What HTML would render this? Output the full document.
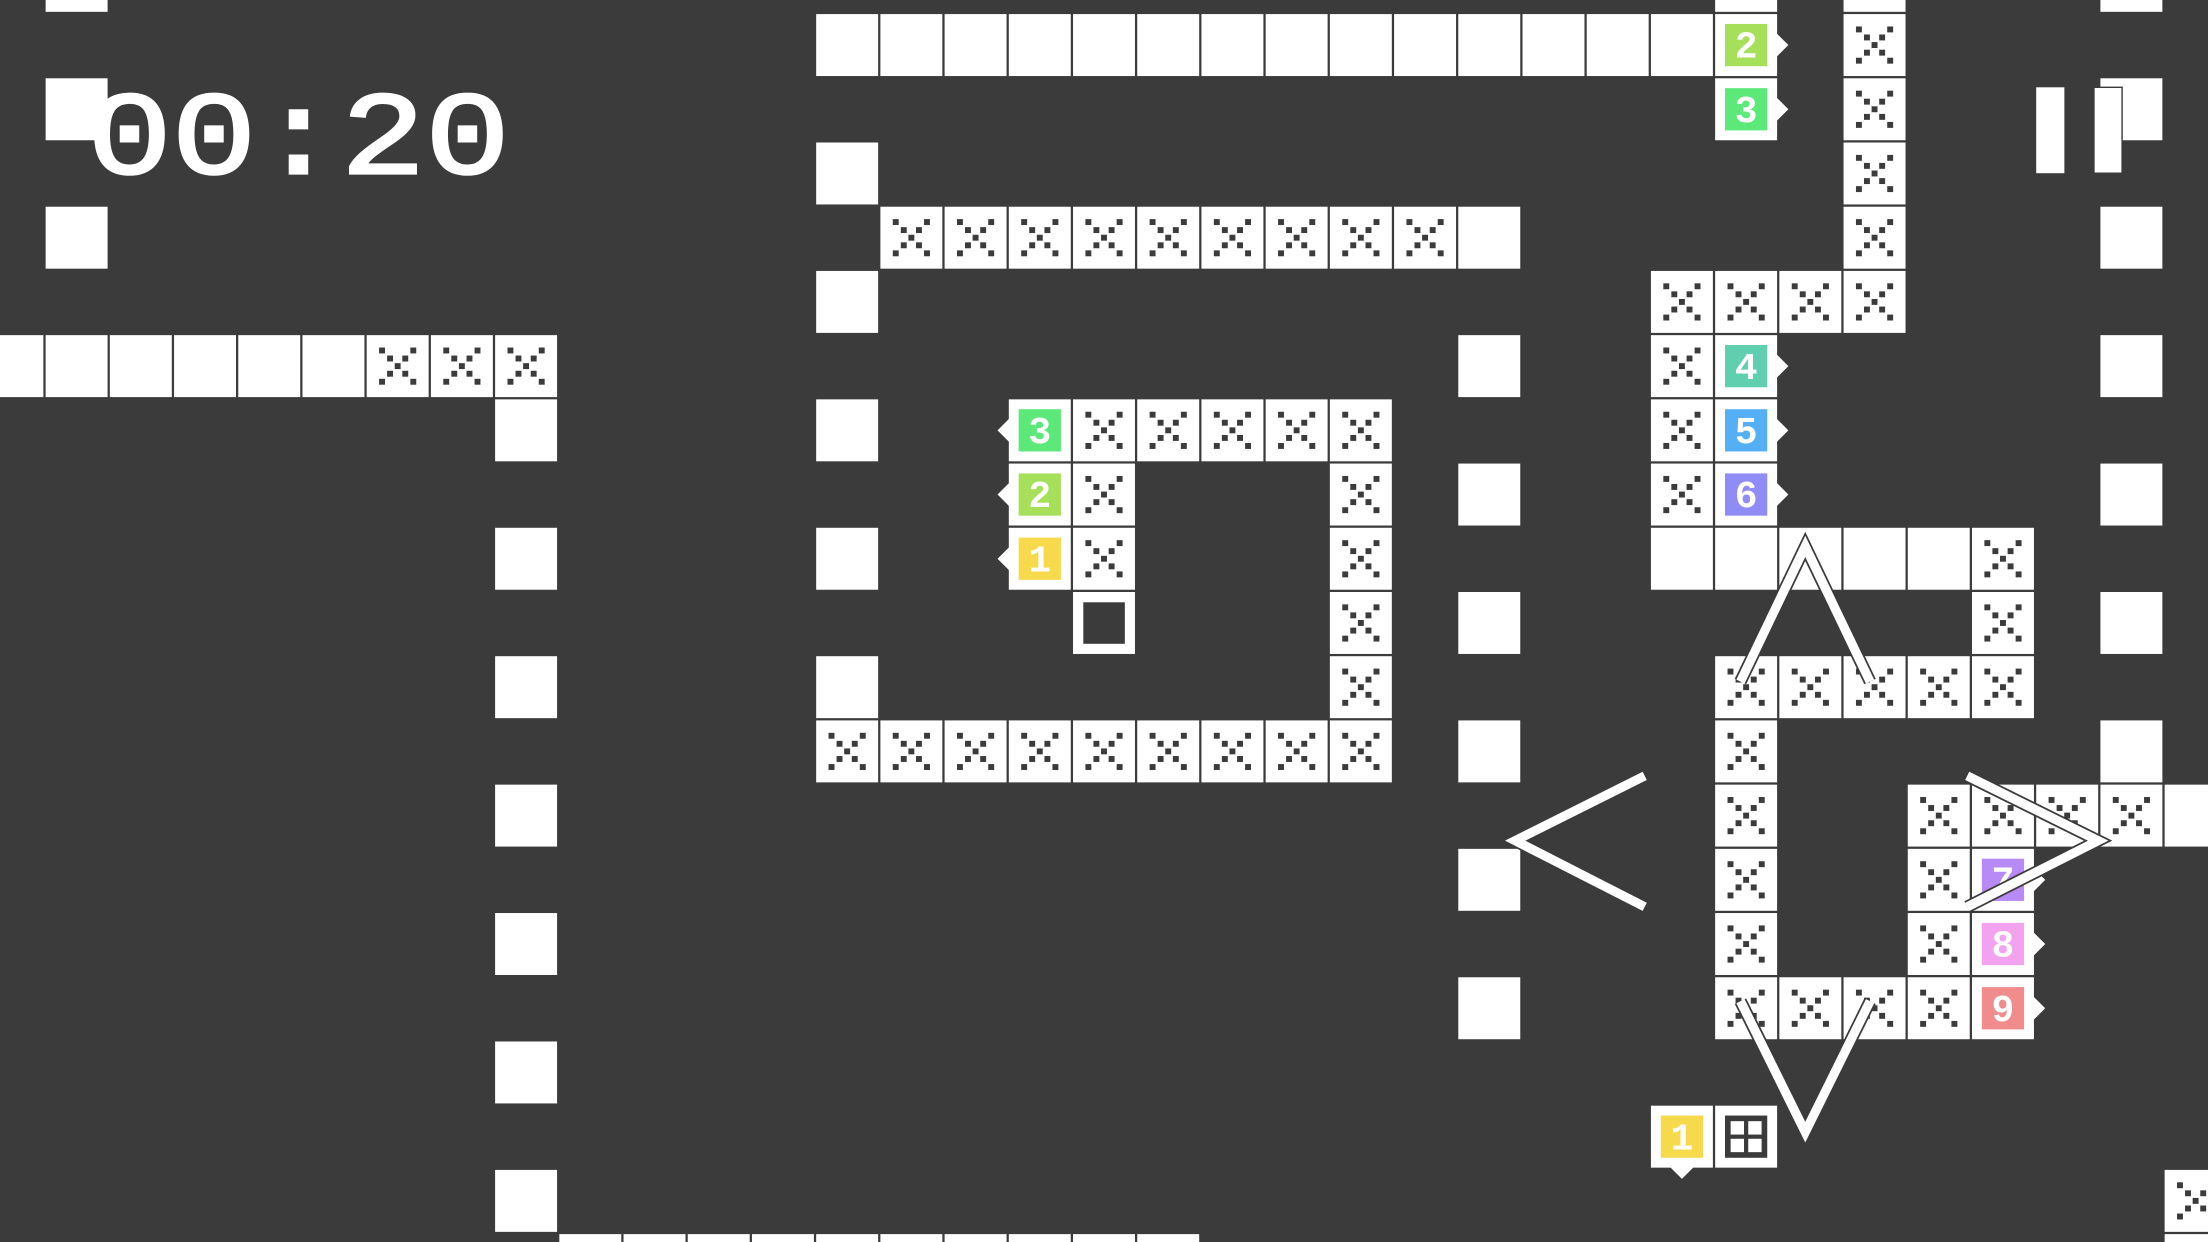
<!DOCTYPE html>
<html><head><meta charset="utf-8"><style>
html,body{margin:0;padding:0;background:#3b3b3b;overflow:hidden}
svg{display:block}
</style></head><body>
<svg width="2208" height="1242" viewBox="0 0 1568 882" preserveAspectRatio="none" xmlns="http://www.w3.org/2000/svg" xmlns:xlink="http://www.w3.org/1999/xlink">
<defs>
<symbol id="w" overflow="visible"><rect width="44" height="44" fill="#fff"/></symbol>
<symbol id="x" overflow="visible"><rect width="44" height="44" fill="#fff"/>
<g fill="#3b3b3b">
<rect x="8.8" y="8.8" width="4.2" height="4.2"/><rect x="14.5" y="14.5" width="4.2" height="4.2"/><rect x="19.9" y="19.9" width="4.2" height="4.2"/><rect x="25.3" y="25.3" width="4.2" height="4.2"/><rect x="31" y="31" width="4.2" height="4.2"/>
<rect x="31" y="8.8" width="4.2" height="4.2"/><rect x="25.3" y="14.5" width="4.2" height="4.2"/><rect x="14.5" y="25.3" width="4.2" height="4.2"/><rect x="8.8" y="31" width="4.2" height="4.2"/>
</g></symbol>
<symbol id="ar" overflow="visible"><polygon points="43,13 52,22 43,31" fill="#fff"/></symbol>
<symbol id="al" overflow="visible"><polygon points="1,13 -8,22 1,31" fill="#fff"/></symbol>
</defs>
<rect width="1568" height="882" fill="#3b3b3b"/>
<g>
<use href="#w" x="32.4" y="-35.6"/><use href="#w" x="32.4" y="55.6"/><use href="#w" x="32.4" y="146.8"/>
<use href="#w" x="-13.2" y="238"/><use href="#w" x="32.4" y="238"/><use href="#w" x="78" y="238"/><use href="#w" x="123.6" y="238"/><use href="#w" x="169.2" y="238"/><use href="#w" x="214.8" y="238"/>
<use href="#x" x="260.4" y="238"/><use href="#x" x="306" y="238"/><use href="#x" x="351.6" y="238"/>
<use href="#w" x="351.6" y="283.6"/><use href="#w" x="351.6" y="374.8"/><use href="#w" x="351.6" y="466"/><use href="#w" x="351.6" y="557.2"/><use href="#w" x="351.6" y="648.4"/><use href="#w" x="351.6" y="739.6"/><use href="#w" x="351.6" y="830.8"/>
<use href="#w" x="397.2" y="876.4"/><use href="#w" x="442.8" y="876.4"/><use href="#w" x="488.4" y="876.4"/><use href="#w" x="534" y="876.4"/><use href="#w" x="579.6" y="876.4"/><use href="#w" x="625.2" y="876.4"/><use href="#w" x="670.8" y="876.4"/><use href="#w" x="716.4" y="876.4"/><use href="#w" x="762" y="876.4"/><use href="#w" x="807.6" y="876.4"/>
<use href="#w" x="579.6" y="10"/><use href="#w" x="625.2" y="10"/><use href="#w" x="670.8" y="10"/><use href="#w" x="716.4" y="10"/><use href="#w" x="762" y="10"/><use href="#w" x="807.6" y="10"/><use href="#w" x="853.2" y="10"/><use href="#w" x="898.8" y="10"/><use href="#w" x="944.4" y="10"/><use href="#w" x="990" y="10"/><use href="#w" x="1035.6" y="10"/><use href="#w" x="1081.2" y="10"/><use href="#w" x="1126.8" y="10"/><use href="#w" x="1172.4" y="10"/>
<use href="#w" x="579.6" y="101.2"/><use href="#w" x="579.6" y="192.4"/><use href="#w" x="579.6" y="283.6"/><use href="#w" x="579.6" y="374.8"/><use href="#w" x="579.6" y="466"/>
<use href="#x" x="625.2" y="146.8"/><use href="#x" x="670.8" y="146.8"/><use href="#x" x="716.4" y="146.8"/><use href="#x" x="762" y="146.8"/><use href="#x" x="807.6" y="146.8"/><use href="#x" x="853.2" y="146.8"/><use href="#x" x="898.8" y="146.8"/><use href="#x" x="944.4" y="146.8"/><use href="#x" x="990" y="146.8"/><use href="#w" x="1035.6" y="146.8"/>
<use href="#w" x="1035.6" y="238"/><use href="#w" x="1035.6" y="329.2"/><use href="#w" x="1035.6" y="420.4"/><use href="#w" x="1035.6" y="511.6"/><use href="#w" x="1035.6" y="602.8"/><use href="#w" x="1035.6" y="694"/>
<use href="#x" x="579.6" y="511.6"/><use href="#x" x="625.2" y="511.6"/><use href="#x" x="670.8" y="511.6"/><use href="#x" x="716.4" y="511.6"/><use href="#x" x="762" y="511.6"/><use href="#x" x="807.6" y="511.6"/><use href="#x" x="853.2" y="511.6"/><use href="#x" x="898.8" y="511.6"/><use href="#x" x="944.4" y="511.6"/>
<use href="#x" x="944.4" y="283.6"/><use href="#x" x="944.4" y="329.2"/><use href="#x" x="944.4" y="374.8"/><use href="#x" x="944.4" y="420.4"/><use href="#x" x="944.4" y="466"/>
<use href="#x" x="762" y="283.6"/><use href="#x" x="807.6" y="283.6"/><use href="#x" x="853.2" y="283.6"/><use href="#x" x="898.8" y="283.6"/>
<use href="#x" x="762" y="329.2"/><use href="#x" x="762" y="374.8"/>
<g transform="translate(762,420.4)"><rect width="44" height="44" fill="#fff"/><rect x="7.3" y="7.3" width="29.5" height="29.5" fill="#3b3b3b"/></g>
<use href="#w" x="1309.2" y="-35.6"/><use href="#x" x="1309.2" y="10"/><use href="#x" x="1309.2" y="55.6"/><use href="#x" x="1309.2" y="101.2"/><use href="#x" x="1309.2" y="146.8"/><use href="#x" x="1309.2" y="192.4"/>
<use href="#w" x="1218" y="-35.6"/>
<use href="#x" x="1172.4" y="192.4"/><use href="#x" x="1218" y="192.4"/><use href="#x" x="1263.6" y="192.4"/>
<use href="#x" x="1172.4" y="238"/><use href="#x" x="1172.4" y="283.6"/><use href="#x" x="1172.4" y="329.2"/>
<use href="#w" x="1172.4" y="374.8"/><use href="#w" x="1218" y="374.8"/><use href="#w" x="1263.6" y="374.8"/><use href="#w" x="1309.2" y="374.8"/><use href="#w" x="1354.8" y="374.8"/><use href="#x" x="1400.4" y="374.8"/>
<use href="#x" x="1400.4" y="420.4"/>
<use href="#x" x="1218" y="466"/><use href="#x" x="1263.6" y="466"/><use href="#x" x="1309.2" y="466"/><use href="#x" x="1354.8" y="466"/><use href="#x" x="1400.4" y="466"/>
<use href="#x" x="1218" y="511.6"/><use href="#x" x="1218" y="557.2"/><use href="#x" x="1218" y="602.8"/><use href="#x" x="1218" y="648.4"/><use href="#x" x="1218" y="694"/>
<use href="#x" x="1263.6" y="694"/><use href="#x" x="1309.2" y="694"/><use href="#x" x="1354.8" y="694"/>
<use href="#x" x="1354.8" y="557.2"/><use href="#x" x="1354.8" y="602.8"/><use href="#x" x="1354.8" y="648.4"/>
<use href="#x" x="1400.4" y="557.2"/><use href="#x" x="1446" y="557.2"/><use href="#x" x="1491.6" y="557.2"/><use href="#w" x="1537.2" y="557.2"/>
<use href="#w" x="1491.6" y="-35.6"/><use href="#w" x="1491.6" y="55.6"/><use href="#w" x="1491.6" y="146.8"/><use href="#w" x="1491.6" y="238"/><use href="#w" x="1491.6" y="329.2"/><use href="#w" x="1491.6" y="420.4"/><use href="#w" x="1491.6" y="511.6"/>
<use href="#x" x="1537.2" y="830.8"/><use href="#w" x="1537.2" y="876.4"/>
</g>
<g font-family="Liberation Mono, monospace" font-weight="bold" font-size="27" fill="#fff" text-anchor="middle">
<g transform="translate(1218,10)"><rect width="44" height="44" fill="#fff"/><use href="#ar"/><rect x="7" y="7" width="30" height="30" fill="#a6e05a"/><text x="22" y="31">2</text></g>
<g transform="translate(1218,55.6)"><rect width="44" height="44" fill="#fff"/><use href="#ar"/><rect x="7" y="7" width="30" height="30" fill="#5de87a"/><text x="22" y="31">3</text></g>
<g transform="translate(1218,238)"><rect width="44" height="44" fill="#fff"/><use href="#ar"/><rect x="7" y="7" width="30" height="30" fill="#5fcfb0"/><text x="22" y="31">4</text></g>
<g transform="translate(1218,283.6)"><rect width="44" height="44" fill="#fff"/><use href="#ar"/><rect x="7" y="7" width="30" height="30" fill="#55aff5"/><text x="22" y="31">5</text></g>
<g transform="translate(1218,329.2)"><rect width="44" height="44" fill="#fff"/><use href="#ar"/><rect x="7" y="7" width="30" height="30" fill="#8f8cf5"/><text x="22" y="31">6</text></g>
<g transform="translate(716.4,283.6)"><rect width="44" height="44" fill="#fff"/><use href="#al"/><rect x="7" y="7" width="30" height="30" fill="#5de87a"/><text x="22" y="31">3</text></g>
<g transform="translate(716.4,329.2)"><rect width="44" height="44" fill="#fff"/><use href="#al"/><rect x="7" y="7" width="30" height="30" fill="#a6e05a"/><text x="22" y="31">2</text></g>
<g transform="translate(716.4,374.8)"><rect width="44" height="44" fill="#fff"/><use href="#al"/><rect x="7" y="7" width="30" height="30" fill="#f7d94c"/><text x="22" y="31">1</text></g>
<g transform="translate(1400.4,602.8)"><rect width="44" height="44" fill="#fff"/><use href="#ar"/><rect x="7" y="7" width="30" height="30" fill="#b88af5"/><text x="22" y="31">7</text></g>
<g transform="translate(1400.4,648.4)"><rect width="44" height="44" fill="#fff"/><use href="#ar"/><rect x="7" y="7" width="30" height="30" fill="#f2a2ee"/><text x="22" y="31">8</text></g>
<g transform="translate(1400.4,694)"><rect width="44" height="44" fill="#fff"/><use href="#ar"/><rect x="7" y="7" width="30" height="30" fill="#f08c8c"/><text x="22" y="31">9</text></g>
<g transform="translate(1172.4,785.2)"><rect width="44" height="44" fill="#fff"/><polygon points="13,43 22,52 31,43" fill="#fff"/><rect x="7" y="7" width="30" height="30" fill="#f7d94c"/><text x="22" y="31">1</text></g>
<g transform="translate(1218,785.2)"><rect width="44" height="44" fill="#fff"/><rect x="7" y="7" width="30" height="30" fill="#3b3b3b"/><rect x="11" y="11" width="9.5" height="9.5" fill="#fff"/><rect x="23.5" y="11" width="9.5" height="9.5" fill="#fff"/><rect x="11" y="23.5" width="9.5" height="9.5" fill="#fff"/><rect x="23.5" y="23.5" width="9.5" height="9.5" fill="#fff"/></g>
</g>
<g fill="none" stroke-linejoin="miter" stroke-miterlimit="10">
<g stroke="#3b3b3b" stroke-width="9">
<polyline points="1168,551 1076,597 1168,644"/>
<polyline points="1236,484 1282,388 1328,484"/>
<polyline points="1236,711 1282,804 1328,711"/>
<polyline points="1397,551 1490,597 1397,644"/>
</g>
<g stroke="#fff" stroke-width="6.5">
<polyline points="1168,551 1076,597 1168,644"/>
<polyline points="1236,484 1282,388 1328,484"/>
<polyline points="1236,711 1282,804 1328,711"/>
<polyline points="1397,551 1490,597 1397,644"/>
</g>
</g>
<rect x="1446" y="62" width="20" height="61" fill="#fff"/>
<rect x="1487" y="62" width="20" height="61" fill="#fff" stroke="#3b3b3b" stroke-width="1"/>
<text x="62" y="123" font-family="Liberation Mono, monospace" font-size="84" fill="#fff" stroke="#fff" stroke-width="2" textLength="300" lengthAdjust="spacingAndGlyphs">00:20</text>
</svg>
</body></html>
